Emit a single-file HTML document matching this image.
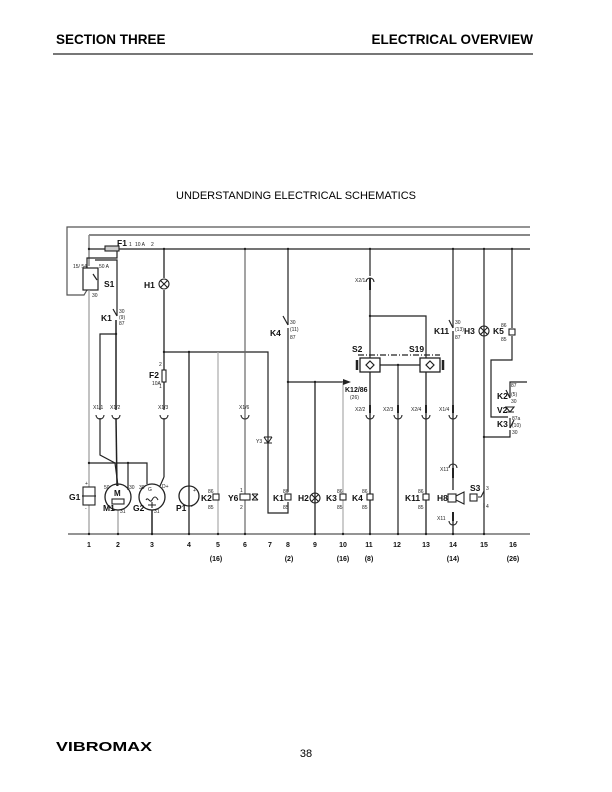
<!DOCTYPE html>
<html><head><meta charset="utf-8"><style>
body{margin:0;background:#fff;}
svg{display:block;font-family:"Liberation Sans",sans-serif;}
</style></head><body>
<svg width="612" height="792" viewBox="0 0 612 792" xmlns="http://www.w3.org/2000/svg">
<text x="56" y="44" font-size="13.5" font-weight="bold">SECTION THREE</text>
<text x="533" y="44" font-size="13.5" font-weight="bold" text-anchor="end">ELECTRICAL OVERVIEW</text>
<line x1="53" y1="54" x2="533" y2="54" stroke="#777" stroke-width="2"/>
<text x="296" y="199" font-size="11" text-anchor="middle">UNDERSTANDING ELECTRICAL SCHEMATICS</text>

<g fill="none" stroke="#222" stroke-width="1.2">
<polyline points="530,227 67,227 67,295 84,295 87,290" stroke="#555"/>
<line x1="89" y1="235" x2="530" y2="235" stroke="#888" stroke-width="2"/>
<line x1="89" y1="235" x2="89" y2="266" stroke="#888" stroke-width="1.5"/>
<line x1="90" y1="249" x2="530" y2="249"/>
<line x1="68" y1="534" x2="530" y2="534" stroke="#555" stroke-width="1.2"/>
<rect x="83" y="268" width="15" height="22" stroke-width="1.2"/>
<polyline points="117,249 117,258 87,258 87,268"/>
<line x1="89" y1="290" x2="89" y2="534" stroke="#999"/>
<line x1="93" y1="274" x2="97" y2="280"/>
<polyline points="95,260 117,260 117,316"/>
<line x1="117" y1="316" x2="113" y2="309"/>
<line x1="116" y1="320" x2="116" y2="410" stroke-width="1.5"/>
<polyline points="116,334 100,334 100,410"/>
<polyline points="100,418 100,455 115,463 118,486"/>
<line x1="116" y1="418" x2="117" y2="486" stroke-width="1.5"/>
<line x1="118" y1="510" x2="118" y2="534" stroke="#999"/>
<polyline points="89,463 147,463 147,484"/>
<line x1="128" y1="463" x2="128" y2="490"/>
<line x1="164" y1="249" x2="164" y2="278" stroke-width="1.3"/>
<line x1="164" y1="290" x2="164" y2="410" stroke-width="1.3"/>
<line x1="164" y1="418" x2="164" y2="477"/>
<line x1="164" y1="477" x2="160" y2="486"/>
<line x1="152" y1="510" x2="152" y2="534" stroke-width="1.5"/>
<polyline points="164,352 268,352 268,513 288,513 288,502"/>
<line x1="189" y1="352" x2="189" y2="534" stroke-width="1.3"/>
<line x1="218" y1="352" x2="218" y2="534" stroke="#aaa"/>
<line x1="245" y1="249" x2="245" y2="534" stroke="#666"/>
<line x1="288" y1="249" x2="288" y2="325"/>
<line x1="288" y1="325" x2="283" y2="316"/>
<line x1="288" y1="328" x2="288" y2="492"/>
<line x1="288" y1="382" x2="348" y2="382"/>
<line x1="315" y1="382" x2="315" y2="534" stroke-width="1.3"/>
<line x1="343" y1="382" x2="343" y2="534" stroke="#aaa"/>
<line x1="370" y1="249" x2="370" y2="276"/>
<line x1="370" y1="282" x2="370" y2="358"/>
<polyline points="370,316 426,316 426,358"/>
<line x1="370" y1="372" x2="370" y2="534" stroke-width="1.3"/>
<line x1="380" y1="365" x2="420" y2="365"/>
<line x1="398" y1="365" x2="398" y2="534"/>
<line x1="426" y1="372" x2="426" y2="534" stroke-width="1.3"/>
<line x1="358" y1="355" x2="440" y2="355" stroke-dasharray="6,2,1,2"/>
<rect x="360" y="358" width="20" height="14" stroke-width="1.3"/>
<rect x="420" y="358" width="20" height="14" stroke-width="1.3"/>
<path d="M370,361 l4,4 l-4,4 l-4,-4z M430,361 l4,4 l-4,4 l-4,-4z"/>
<line x1="357" y1="360" x2="357" y2="370" stroke-width="2.5"/>
<line x1="443" y1="360" x2="443" y2="370" stroke-width="2.5"/>
<line x1="453" y1="249" x2="453" y2="328"/>
<line x1="453" y1="328" x2="449" y2="320"/>
<line x1="453" y1="331" x2="453" y2="490" stroke-width="1.3"/>
<line x1="453" y1="515" x2="453" y2="534" stroke-width="1.3"/>
<line x1="484" y1="249" x2="484" y2="534"/>
<line x1="512" y1="249" x2="512" y2="328"/>
<polyline points="512,336 512,360 491,360 491,417 508,417"/>
<polyline points="527,382 510,382 510,398"/>
<line x1="510" y1="398" x2="506" y2="390"/>
<polyline points="510,418 510,428"/>
<line x1="510" y1="428" x2="514" y2="420"/>
<polyline points="510,430 510,437 484,437"/>
</g>

<g fill="none" stroke="#222" stroke-width="1.1">
<path d="M96,415 a4,4 0 0 0 8,0 M112,415 a4,4 0 0 0 8,0 M160,415 a4,4 0 0 0 8,0 M241,415 a4,4 0 0 0 8,0 M366,415 a4,4 0 0 0 8,0 M394,415 a4,4 0 0 0 8,0 M422,415 a4,4 0 0 0 8,0 M449,415 a4,4 0 0 0 8,0 M449,521 a4,4 0 0 0 8,0"/>
<path d="M366,282 a4,4 0 0 1 8,0 M449,468 a4,4 0 0 1 8,0"/>
<circle cx="164" cy="284" r="5"/><path d="M160.5,280.5l7,7M167.5,280.5l-7,7"/>
<circle cx="484" cy="331" r="5"/><path d="M480.5,327.5l7,7M487.5,327.5l-7,7"/>
<circle cx="315" cy="498" r="5"/><path d="M311.5,494.5l7,7M318.5,494.5l-7,7"/>
<rect x="162" y="370" width="4" height="12" fill="#fff"/>
<rect x="105" y="246" width="14" height="5" fill="#ccc"/>
<rect x="213" y="494" width="6" height="6" fill="#fff"/>
<rect x="285" y="494" width="6" height="6" fill="#fff"/>
<rect x="340" y="494" width="6" height="6" fill="#fff"/>
<rect x="367" y="494" width="6" height="6" fill="#fff"/>
<rect x="423" y="494" width="6" height="6" fill="#fff"/>
<rect x="509" y="329" width="6" height="6" fill="#fff"/>
<rect x="240" y="494" width="10" height="6" fill="#fff"/>
<path d="M252,494l6,6M252,500l6,-6M252,494h6M252,500h6"/>
<path d="M264,437l4,6M272,437l-4,6M264,443h8M264,437h8"/>
<rect x="448" y="494" width="8" height="8" fill="#fff"/>
<path d="M456,496l8,-4v12l-8,-4z"/>
<rect x="470" y="494" width="7" height="7"/>
<path d="M478,497h3M481,497l3,-6M484,503v5"/>
<path d="M506,407h8l-4,5z M506,412h8"/>
<circle cx="118" cy="497" r="13" stroke-width="1.3"/>
<rect x="112" y="499" width="12" height="5"/>
<circle cx="152" cy="497" r="13" stroke-width="1.3"/>
<path d="M146,500c2,-4 4,4 6,0s4,-4 6,0M148,505h8M152,502v6"/>
<circle cx="189" cy="496" r="10" stroke-width="1.3"/>
<rect x="83" y="487" width="12" height="18" fill="#fff"/>
<line x1="82" y1="496" x2="96" y2="496"/>
</g>
<g fill="#222">
<rect x="369" y="278" width="2" height="12"/>
<rect x="452" y="405" width="2" height="8"/>
<rect x="452" y="468" width="2" height="10"/>
<rect x="452" y="512" width="2" height="9"/>
<rect x="369" y="405" width="2" height="8"/>
<rect x="397" y="405" width="2" height="8"/>
<rect x="425" y="405" width="2" height="8"/>
<path d="M343,379l8,3l-8,3z"/>
<circle cx="89" cy="249" r="1.2"/><circle cx="164" cy="249" r="1.2"/><circle cx="245" cy="249" r="1.2"/><circle cx="288" cy="249" r="1.2"/><circle cx="370" cy="249" r="1.2"/><circle cx="453" cy="249" r="1.2"/><circle cx="484" cy="249" r="1.2"/><circle cx="512" cy="249" r="1.2"/>
<circle cx="164" cy="352" r="1.2"/><circle cx="189" cy="352" r="1.2"/><circle cx="288" cy="382" r="1.2"/><circle cx="315" cy="382" r="1.2"/><circle cx="116" cy="334" r="1.2"/><circle cx="89" cy="463" r="1.2"/><circle cx="128" cy="463" r="1.2"/><circle cx="370" cy="316" r="1.2"/><circle cx="398" cy="365" r="1.2"/><circle cx="484" cy="437" r="1.2"/>
<circle cx="89" cy="534" r="1.2"/><circle cx="118" cy="534" r="1.2"/><circle cx="152" cy="534" r="1.2"/><circle cx="189" cy="534" r="1.2"/><circle cx="218" cy="534" r="1.2"/><circle cx="245" cy="534" r="1.2"/><circle cx="315" cy="534" r="1.2"/><circle cx="343" cy="534" r="1.2"/><circle cx="370" cy="534" r="1.2"/><circle cx="398" cy="534" r="1.2"/><circle cx="426" cy="534" r="1.2"/><circle cx="453" cy="534" r="1.2"/><circle cx="484" cy="534" r="1.2"/>
</g>

<g font-weight="bold" font-size="8.5" fill="#111">
<text x="117" y="246">F1</text>
<text x="104" y="287">S1</text>
<text x="144" y="288">H1</text>
<text x="101" y="321">K1</text>
<text x="149" y="378">F2</text>
<text x="270" y="336">K4</text>
<text x="352" y="352">S2</text>
<text x="409" y="352">S19</text>
<text x="345" y="392" font-size="7">K12/86</text>
<text x="434" y="334">K11</text>
<text x="464" y="334">H3</text>
<text x="493" y="334">K5</text>
<text x="497" y="399">K2</text>
<text x="497" y="413">V2</text>
<text x="497" y="427">K3</text>
<text x="69" y="500">G1</text>
<text x="103" y="511">M1</text>
<text x="133" y="511">G2</text>
<text x="176" y="511">P1</text>
<text x="201" y="501">K2</text>
<text x="228" y="501">Y6</text>
<text x="273" y="501">K1</text>
<text x="298" y="501">H2</text>
<text x="326" y="501">K3</text>
<text x="352" y="501">K4</text>
<text x="405" y="501">K11</text>
<text x="437" y="501">H8</text>
<text x="470" y="491">S3</text>
<text x="114" y="496" font-size="8">M</text>
</g>
<g font-size="5" fill="#222">
<text x="73" y="268">15/ 54</text><text x="99" y="268">50 A</text><text x="92" y="297">30</text>
<text x="119" y="313">30</text><text x="119" y="319">(9)</text><text x="119" y="325">87</text>
<text x="135" y="246">10 A</text><text x="129" y="246">1</text><text x="151" y="246">2</text>
<text x="152" y="385">10A</text><text x="159" y="366">2</text><text x="159" y="388">1</text>
<text x="93" y="409">X1/1</text><text x="110" y="409">X1/2</text><text x="158" y="409">X1/3</text><text x="239" y="409">X1/6</text>
<text x="256" y="443">Y3</text>
<text x="104" y="489">50</text><text x="129" y="489">30</text><text x="139" y="489">30</text><text x="162" y="488">D+</text>
<text x="120" y="513">31</text><text x="154" y="513">31</text><text x="148" y="491">G</text>
<text x="193" y="492">+</text><text x="191" y="508">-</text>
<text x="208" y="493">86</text><text x="208" y="509">85</text>
<text x="240" y="492">1</text><text x="240" y="509">2</text>
<text x="283" y="493">86</text><text x="283" y="509">85</text>
<text x="290" y="324">30</text><text x="290" y="331">(11)</text><text x="290" y="339">87</text>
<text x="337" y="493">86</text><text x="337" y="509">85</text>
<text x="362" y="493">86</text><text x="362" y="509">85</text>
<text x="418" y="493">86</text><text x="418" y="509">85</text>
<text x="350" y="399">(26)</text>
<text x="355" y="282">X2/1</text>
<text x="355" y="411">X2/2</text><text x="383" y="411">X2/3</text><text x="411" y="411">X2/4</text><text x="439" y="411">X1/4</text>
<text x="440" y="471">X11</text><text x="437" y="520">X11</text>
<text x="455" y="324">30</text><text x="455" y="331">(13)</text><text x="455" y="339">87</text>
<text x="501" y="327">86</text><text x="501" y="341">85</text>
<text x="511" y="387">87</text><text x="511" y="396">(5)</text><text x="511" y="403">30</text>
<text x="512" y="420">87a</text><text x="512" y="427">(10)</text><text x="512" y="434">30</text>
<text x="486" y="490">3</text><text x="486" y="508">4</text>
<text x="85" y="485">+</text><text x="85" y="510">-</text>
</g>
<g font-size="7" font-weight="bold" fill="#111" text-anchor="middle">
<text x="89" y="547">1</text><text x="118" y="547">2</text><text x="152" y="547">3</text><text x="189" y="547">4</text><text x="218" y="547">5</text><text x="245" y="547">6</text><text x="270" y="547">7</text><text x="288" y="547">8</text><text x="315" y="547">9</text><text x="343" y="547">10</text><text x="369" y="547">11</text><text x="397" y="547">12</text><text x="426" y="547">13</text><text x="453" y="547">14</text><text x="484" y="547">15</text><text x="513" y="547">16</text>
<text x="216" y="561">(16)</text><text x="289" y="561">(2)</text><text x="343" y="561">(16)</text><text x="369" y="561">(8)</text><text x="453" y="561">(14)</text><text x="513" y="561">(26)</text>
</g>

<text x="56" y="751" font-size="13" font-weight="bold" textLength="96" lengthAdjust="spacingAndGlyphs">VIBROMAX</text>
<text x="306" y="757" font-size="11" text-anchor="middle">38</text>
</svg>
</body></html>
